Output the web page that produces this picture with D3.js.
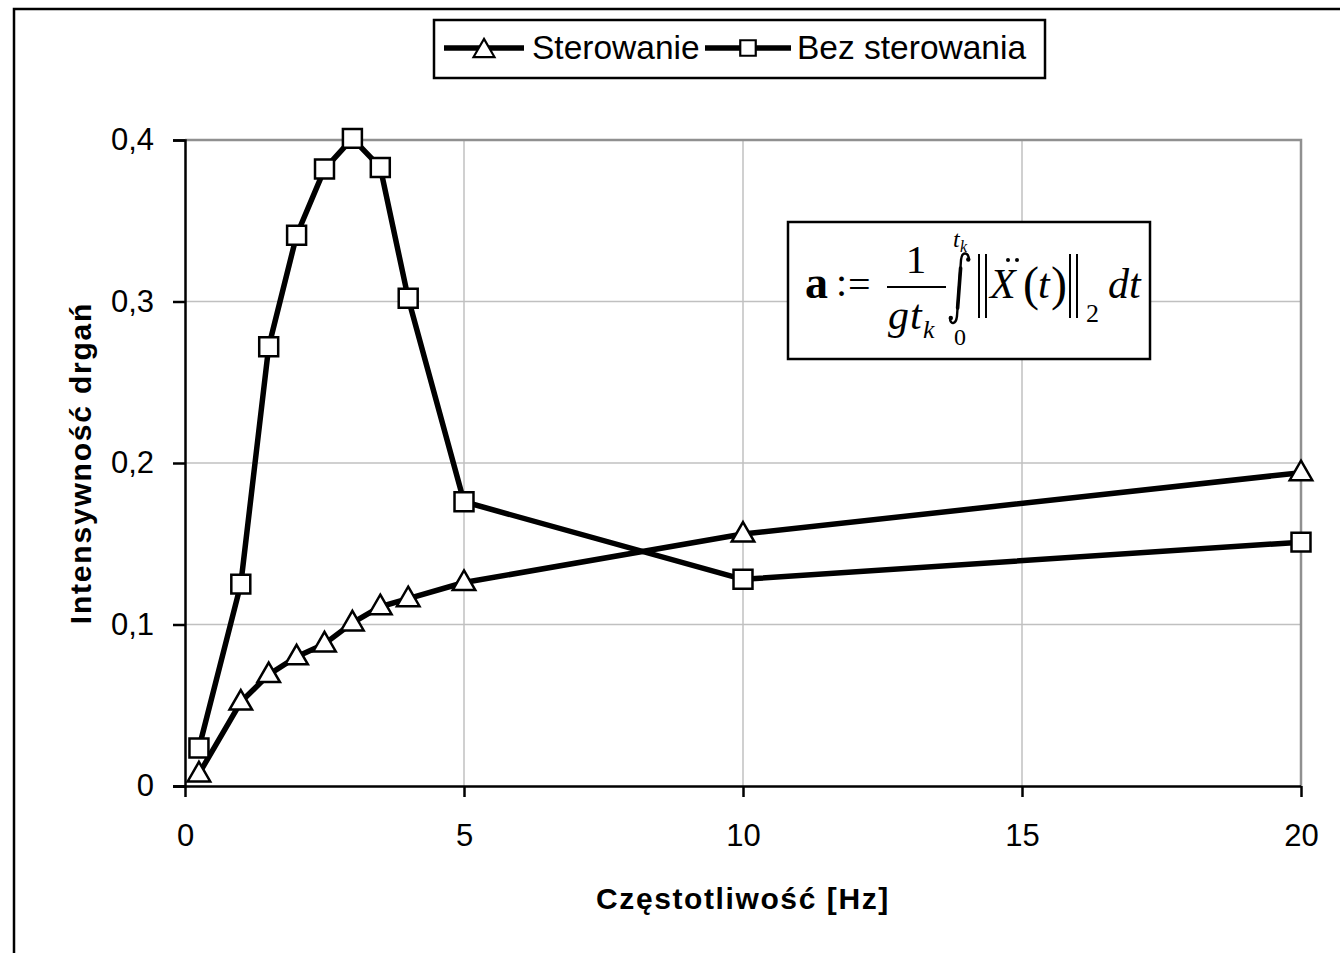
<!DOCTYPE html>
<html>
<head>
<meta charset="utf-8">
<script src="https://cdn.jsdelivr.net/npm/d3@7/dist/d3.min.js"></script>
<style>
  html, body { margin: 0; padding: 0; background: #fff; }
  svg { display: block; }
</style>
</head>
<body>
<svg id="chart" width="1340" height="953"></svg>
<script>
// Vibration intensity vs. excitation frequency, with and without control
const freq = [0.25, 1, 1.5, 2, 2.5, 3, 3.5, 4, 5, 10, 20];
const sterowanie = [0.0075, 0.052, 0.069, 0.080, 0.088, 0.101, 0.111, 0.116, 0.126, 0.156, 0.194];
const bezSterowania = [0.0235, 0.125, 0.272, 0.341, 0.382, 0.401, 0.383, 0.302, 0.176, 0.128, 0.151];
const xTicks = [0, 5, 10, 15, 20];
const yTicks = [0, 0.1, 0.2, 0.3, 0.4];
const seriesNames = ["Sterowanie", "Bez sterowania"];
const xTitle = "Częstotliwość [Hz]";
const yTitle = "Intensywność drgań";

const svg = d3.select("#chart");
const sans = "'Liberation Sans', Arial, sans-serif";
const serif = "'Liberation Serif', 'Times New Roman', serif";

const plot = { left: 185, right: 1301, top: 140, bottom: 786 };
const x = d3.scaleLinear().domain([0, 20]).range([plot.left, plot.right]);
const y = d3.scaleLinear().domain([0, 0.4]).range([plot.bottom, plot.top]);
const fmt = v => v === 0 ? "0" : d3.format(".1f")(v).replace(".", ",");

// outer chart frame (runs past the right and bottom edges)
svg.append("rect")
  .attr("x", 14).attr("y", 9).attr("width", 1400).attr("height", 1000)
  .attr("fill", "none").attr("stroke", "#000").attr("stroke-width", 2.5);

// gridlines
const grid = svg.append("g");
grid.selectAll("line.gx").data(xTicks.filter(t => t > 0 && t < 20)).join("line")
  .attr("x1", d => x(d)).attr("x2", d => x(d))
  .attr("y1", plot.top).attr("y2", plot.bottom)
  .attr("stroke", "#c0c0c0").attr("stroke-width", 1.5);
grid.selectAll("line.gy").data(yTicks.filter(t => t > 0 && t < 0.4)).join("line")
  .attr("x1", plot.left).attr("x2", plot.right)
  .attr("y1", d => y(d)).attr("y2", d => y(d))
  .attr("stroke", "#c0c0c0").attr("stroke-width", 1.5);
// plot area border (top and right)
grid.append("path")
  .attr("d", `M${plot.left},${y(0.4)}H${x(20)}V${plot.bottom}`)
  .attr("fill", "none").attr("stroke", "#909090").attr("stroke-width", 2.5);

// axes
const xAxis = svg.append("g")
  .attr("transform", `translate(0,${plot.bottom})`)
  .call(d3.axisBottom(x).tickValues(xTicks).tickSize(11).tickPadding(28).tickFormat(d3.format("d")));
const yAxis = svg.append("g")
  .attr("transform", `translate(${plot.left},0)`)
  .call(d3.axisLeft(y).tickValues(yTicks).tickSize(12).tickPadding(19).tickFormat(fmt));
[xAxis, yAxis].forEach(a => {
  a.select(".domain").attr("stroke", "#000").attr("stroke-width", 2.5);
  a.selectAll(".tick line").attr("stroke", "#000").attr("stroke-width", 2.5);
  a.selectAll(".tick text").attr("fill", "#000")
    .style("font-family", sans).style("font-size", "31px");
});
xAxis.select(".domain").attr("d", `M${plot.left - 12},0.5H${plot.right}`);
xAxis.selectAll(".tick text").attr("dy", "0.69em");

// axis titles
svg.append("text")
  .attr("x", x(10)).attr("y", 909).attr("text-anchor", "middle")
  .style("font-family", sans).style("font-size", "30px").style("font-weight", "bold")
  .style("letter-spacing", "1.6px")
  .text(xTitle);
svg.append("text")
  .attr("transform", `translate(80,${y(0.2)}) rotate(-90)`)
  .attr("text-anchor", "middle").attr("dy", "0.35em")
  .style("font-family", sans).style("font-size", "30px").style("font-weight", "bold")
  .style("letter-spacing", "1.8px")
  .text(yTitle);

// series
const line = d3.line().x(d => x(d[0])).y(d => y(d[1]));
const dataA = freq.map((f, i) => [f, sterowanie[i]]);
const dataB = freq.map((f, i) => [f, bezSterowania[i]]);

const tri = d3.symbol().type(d3.symbolTriangle).size(220);
const sq = d3.symbol().type(d3.symbolSquare).size(360);

[dataA, dataB].forEach(data => {
  svg.append("path").datum(data).attr("d", line)
    .attr("fill", "none").attr("stroke", "#000").attr("stroke-width", 5.5)
    .attr("stroke-linejoin", "round");
});
svg.append("g").selectAll("path").data(dataA).join("path")
  .attr("transform", d => `translate(${x(d[0])},${y(d[1]) + 1})`)
  .attr("d", tri).attr("fill", "#fff").attr("stroke", "#000").attr("stroke-width", 2.5);
svg.append("g").selectAll("path").data(dataB).join("path")
  .attr("transform", d => `translate(${x(d[0])},${y(d[1])})`)
  .attr("d", sq).attr("fill", "#fff").attr("stroke", "#000").attr("stroke-width", 2.5);

// legend
const lg = svg.append("g");
lg.append("rect").attr("x", 434).attr("y", 20).attr("width", 611).attr("height", 58)
  .attr("fill", "#fff").attr("stroke", "#000").attr("stroke-width", 2.5);
const legendItems = [
  { name: seriesNames[0], x1: 444, x2: 524, sym: d3.symbol().type(d3.symbolTriangle).size(190), tx: 532 },
  { name: seriesNames[1], x1: 705, x2: 791, sym: d3.symbol().type(d3.symbolSquare).size(240), tx: 797 }
];
legendItems.forEach((it, i) => {
  const cy = 48;
  lg.append("line").attr("x1", it.x1).attr("x2", it.x2).attr("y1", cy).attr("y2", cy)
    .attr("stroke", "#000").attr("stroke-width", 5.5);
  lg.append("path").attr("transform", `translate(${(it.x1 + it.x2) / 2},${cy + (i === 0 ? 3 : 0)})`)
    .attr("d", it.sym()).attr("fill", "#fff").attr("stroke", "#000").attr("stroke-width", 2.2);
  lg.append("text").attr("x", it.tx).attr("y", 59)
    .style("font-family", sans).style("font-size", "33.5px").text(it.name);
});

// formula box: a := 1/(g t_k) ∫_0^{t_k} ||Ẍ(t)||_2 dt
const fb = svg.append("g");
fb.append("rect").attr("x", 788).attr("y", 222).attr("width", 362).attr("height", 137)
  .attr("fill", "#fff").attr("stroke", "#000").attr("stroke-width", 2.5);
const ft = (tx, ty, s, size, opts = {}) => fb.append("text")
  .attr("x", tx).attr("y", ty).attr("text-anchor", opts.anchor || "start")
  .style("font-family", serif).style("font-size", size + "px")
  .style("font-weight", opts.bold ? "bold" : "normal")
  .style("font-style", opts.italic ? "italic" : "normal")
  .text(s);
const base = 298;
ft(805, base, "a", 46, { bold: true });
ft(836, base - 2, ":", 40);
ft(848, base, "=", 40);
fb.append("line").attr("x1", 887).attr("x2", 946).attr("y1", 287).attr("y2", 287)
  .attr("stroke", "#000").attr("stroke-width", 2);
ft(916, 273, "1", 41, { anchor: "middle" });
ft(888, 329, "g", 42, { italic: true });
ft(910, 329, "t", 42, { italic: true });
ft(923, 338, "k", 26, { italic: true });
// integral sign with limits (tapered stroke drawn as two passes)
const integralPath = "M969,259 C968,252 962,251 961,260 L957,316 C956,325 950,325 950,318";
fb.append("path").attr("d", integralPath)
  .attr("fill", "none").attr("stroke", "#000").attr("stroke-width", 2.4);
fb.append("path").attr("d", "M960.6,268 L957.6,308")
  .attr("fill", "none").attr("stroke", "#000").attr("stroke-width", 3.6).attr("stroke-linecap", "round");
fb.append("circle").attr("cx", 968.3).attr("cy", 259.5).attr("r", 2.2).attr("fill", "#000");
fb.append("circle").attr("cx", 950.8).attr("cy", 318).attr("r", 2.2).attr("fill", "#000");
ft(953, 247, "t", 24, { italic: true });
ft(960, 252, "k", 16, { italic: true });
ft(954, 345, "0", 24);
// norm bars
const bar = (bx) => {
  [0, 7].forEach(o => fb.append("line")
    .attr("x1", bx + o).attr("x2", bx + o).attr("y1", 254).attr("y2", 318)
    .attr("stroke", "#000").attr("stroke-width", 2));
};
bar(979);
ft(990, base, "X", 42, { italic: true });
// double dot over X
fb.append("circle").attr("cx", 1008).attr("cy", 260).attr("r", 2).attr("fill", "#000");
fb.append("circle").attr("cx", 1017).attr("cy", 260).attr("r", 2).attr("fill", "#000");
ft(1023, base + 2, "(", 48);
ft(1038, base, "t", 42, { italic: true });
ft(1051, base + 2, ")", 48);
bar(1070);
ft(1086, 322, "2", 26);
ft(1108, base, "dt", 42, { italic: true });
</script>
</body>
</html>
